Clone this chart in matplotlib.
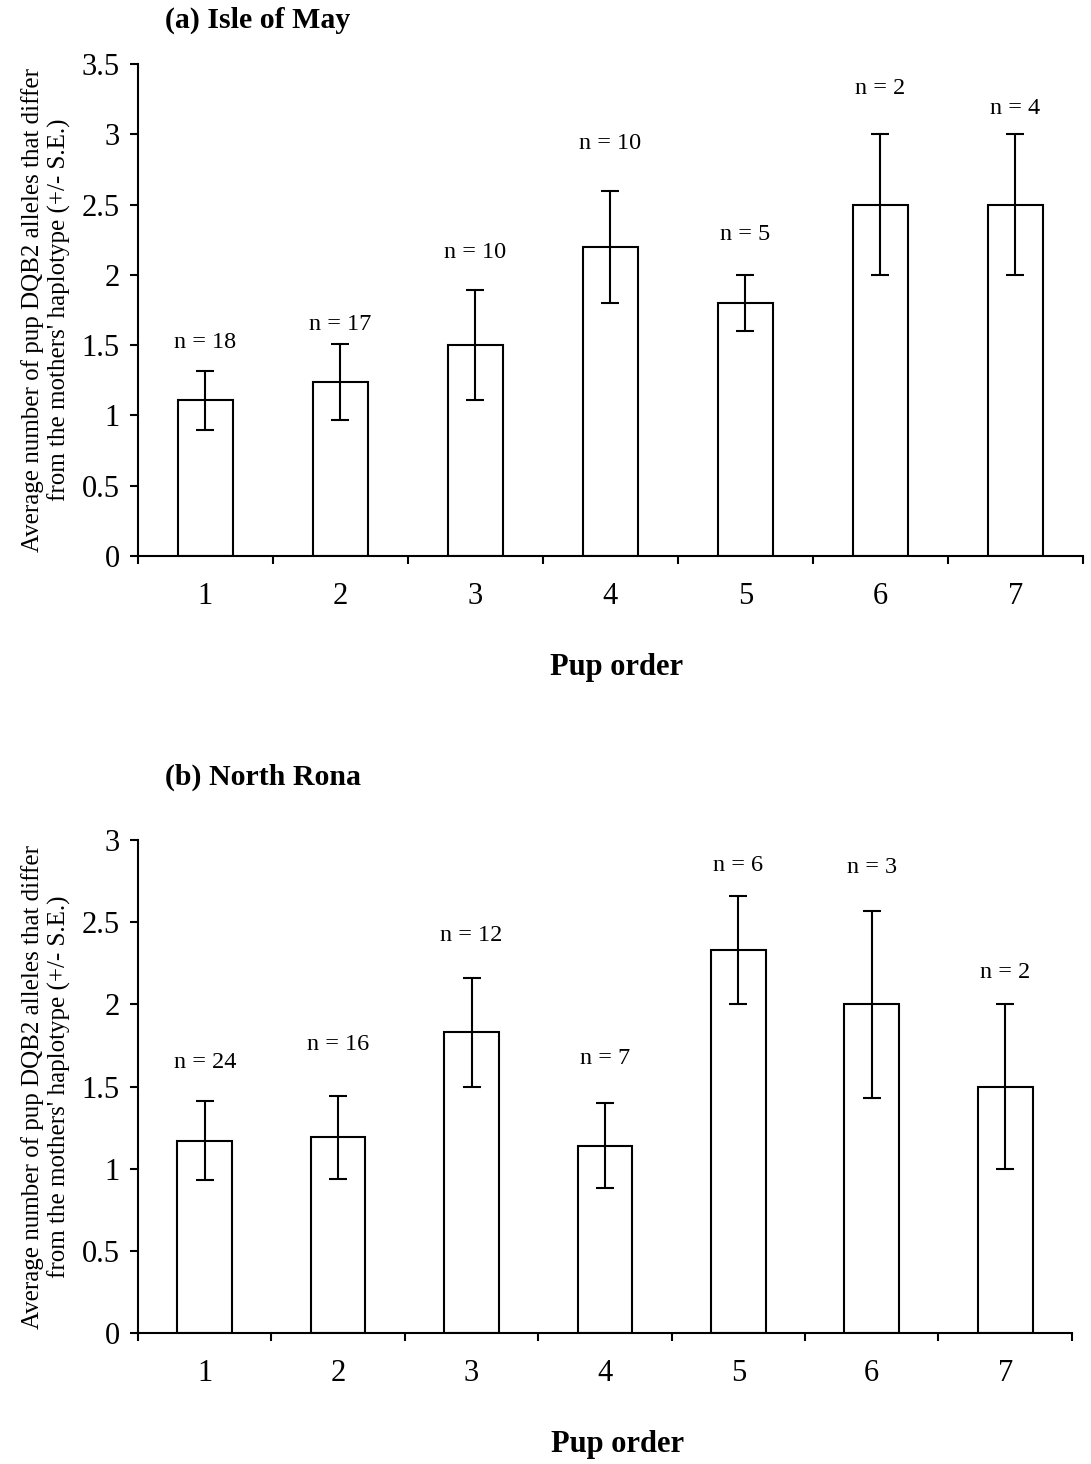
import matplotlib
matplotlib.use("Agg")
import matplotlib.pyplot as plt
import numpy as np

plt.rcParams["font.family"] = ["Liberation Serif", "DejaVu Serif"]

pup_order = [1, 2, 3, 4, 5, 6, 7]

# (a) Isle of May
may_mean = [1.11, 1.24, 1.50, 2.20, 1.80, 2.50, 2.50]
may_se = [0.21, 0.27, 0.39, 0.40, 0.20, 0.50, 0.50]
may_n = [18, 17, 10, 10, 5, 2, 4]

# (b) North Rona
rona_mean = [1.17, 1.19, 1.83, 1.14, 2.33, 2.00, 1.50]
rona_se = [0.24, 0.25, 0.33, 0.26, 0.33, 0.57, 0.50]
rona_n = [24, 16, 12, 7, 6, 3, 2]

# label offsets above the error bars (points), hand placed
may_label_off = [20, 14, 27, 34, 29, 33, 19]
rona_label_off = [28, 37, 31, 32, 22, 31, 23]

YLABEL = ("Average number of pup DQB2 alleles that differ\n"
          "from the mothers' haplotype (+/- S.E.)")


def draw_panel(ax, means, se, ns, offs, ymax, xlabel_x):
    x = np.array(pup_order)
    ax.bar(x, means, width=0.41, color="white", edgecolor="black",
           linewidth=1.5, zorder=2)
    ax.errorbar(x, means, yerr=se, fmt="none", ecolor="black",
                elinewidth=1.5, capsize=6.5, capthick=1.5, zorder=3)
    for xi, m, s, n, o in zip(x, means, se, ns, offs):
        ax.annotate(f"n = {n}", (xi, m + s), xytext=(0, o),
                    textcoords="offset points", ha="center", va="center",
                    fontsize=17.5)
    ax.set_xlim(0.5, 7.5)
    ax.set_ylim(0, ymax)
    yt = np.arange(0, ymax + 0.01, 0.5)
    ax.set_yticks(yt)
    ax.set_yticklabels([f"{v:g}" for v in yt])
    # category boundaries carry the tick marks, labels sit at the centres
    ax.set_xticks(np.arange(0.5, 8, 1))
    ax.set_xticklabels([])
    ax.set_xticks(x, minor=True)
    ax.set_xticklabels([str(v) for v in pup_order], minor=True)
    ax.tick_params(axis="x", which="minor", length=0, pad=19, labelsize=22)
    ax.tick_params(axis="x", which="major", length=6, width=1.5)
    ax.tick_params(axis="y", length=6, width=1.5, labelsize=22, pad=7)
    for side in ("top", "right"):
        ax.spines[side].set_visible(False)
    for side in ("left", "bottom"):
        ax.spines[side].set_linewidth(1.5)
    ax.set_ylabel(YLABEL, fontsize=18, linespacing=1.2, labelpad=8)
    ax.set_xlabel("Pup order", fontsize=22, fontweight="bold", labelpad=30)
    ax.xaxis.label.set_x(xlabel_x)


fig = plt.figure(figsize=(10.91, 14.64), dpi=100)
ax_a = fig.add_axes([0.1265, 0.6202, 0.866, 0.336])
ax_b = fig.add_axes([0.1265, 0.0895, 0.856, 0.3367])

draw_panel(ax_a, may_mean, may_se, may_n, may_label_off, 3.5, 0.507)
draw_panel(ax_b, rona_mean, rona_se, rona_n, rona_label_off, 3.0, 0.513)

fig.text(0.151, 1 - 20 / 1464, "(a) Isle of May", fontsize=21.5,
         fontweight="bold", va="center", ha="left")
fig.text(0.151, 1 - 777 / 1464, "(b) North Rona", fontsize=21.5,
         fontweight="bold", va="center", ha="left")

fig.savefig("out.png", dpi=100, facecolor="white")
